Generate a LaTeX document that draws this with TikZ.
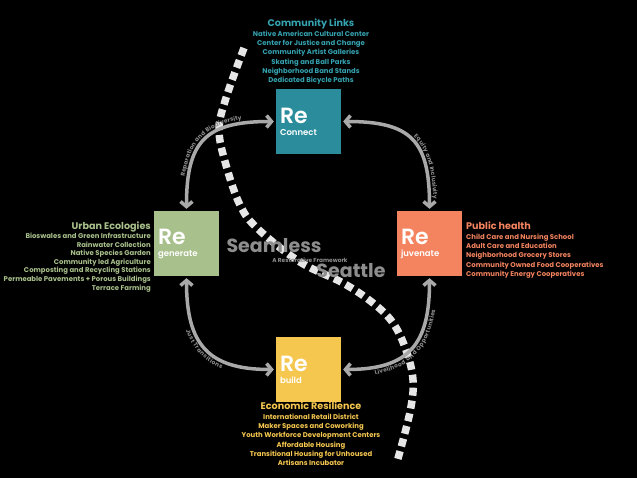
\documentclass[tikz,border=0pt]{standalone}
\usepackage{fontspec}
\setmainfont{Poppins}
\newfontfamily\reface{Poppins SemiBold}
\usetikzlibrary{arrows.meta,decorations.text}

\definecolor{linkteal}{HTML}{2B8D9C}
\definecolor{linktext}{HTML}{35A2B0}
\definecolor{ecogreen}{HTML}{A8C08B}
\definecolor{healthorange}{HTML}{F4835F}
\definecolor{buildyellow}{HTML}{F5C74F}
\definecolor{arcgray}{HTML}{A9A9A9}
\definecolor{titlegray}{HTML}{8E8E8E}
\definecolor{seamwhite}{HTML}{E6E6E6}

\newcommand{\rebig}{\reface\fontsize{22}{20}\selectfont}
\newcommand{\resmall}{\fontsize{8.5}{10}\selectfont}
\newcommand{\listhead}{\fontsize{9.6}{11}\selectfont\bfseries}
\newcommand{\arcfont}{\fontsize{5.8}{6}\selectfont\bfseries\color{titlegray}}

\tikzstyle{rebox} = [minimum size = 65pt, inner sep = 4pt, text width = 57pt, align = left, text = white]
\tikzstyle{relink} = [draw = arcgray, line width = 3.5pt, {Straight Barb[length=5pt,width=12pt]}-{Straight Barb[length=5pt,width=12pt]}, shorten <= 2pt, shorten >= 2pt]
\tikzstyle{seam} = [draw = seamwhite, line width = 7.5pt, dash pattern = on 8pt off 5pt]
\tikzstyle{listblock} = [font = \fontsize{6.9}{9.3}\selectfont\bfseries, inner sep = 0pt]

\begin{document}
\begin{tikzpicture}[x=1pt, y=-1pt]
	\fill [black] (0, 0) rectangle (637, 478);

	\draw [seam] plot [smooth, tension = 0.6] coordinates {(244, 48) (226, 98) (219, 130) (226, 165) (240, 205) (258, 229) (300, 262) (343, 283) (373, 303) (393, 323) (406, 350) (413, 380) (410, 412) (397, 462)};

	\node [rebox, fill = linkteal] at (308.5, 121.5) (conn) {\rebig Re\\\resmall Connect};
	\node [rebox, fill = ecogreen] at (186.5, 243.5) (regen) {\rebig Re\\\resmall generate};
	\node [rebox, fill = healthorange] at (429.5, 243.5) (rejuv) {\rebig Re\\\resmall juvenate};
	\node [rebox, fill = buildyellow] at (308.5, 369.5) (rebuild) {\rebig Re\\\resmall build};

	\draw [relink, postaction = {decorate, arrows = -, draw = none, decoration = {text along path, text align = center, raise = 4pt, text = {|\arcfont|Reparation and Biodiversity}}}] (regen.north) .. controls +(0, -70) and +(-70, 0) .. (conn.west);
	\draw [relink, postaction = {decorate, arrows = -, draw = none, decoration = {text along path, text align = {align = right, right indent = 12pt}, raise = 4pt, text = {|\arcfont|Equity and Inclusivity}}}] (conn.east) .. controls +(70, 0) and +(0, -70) .. (rejuv.north);
	\draw [relink, postaction = {decorate, arrows = -, draw = none, decoration = {text along path, text align = center, raise = -8pt, text = {|\arcfont|Just Transitions}}}] (regen.south) .. controls +(0, 68) and +(-68, 0) .. (rebuild.west);
	\draw [relink, postaction = {decorate, arrows = -, draw = none, decoration = {text along path, text align = center, raise = -8pt, text = {|\arcfont|Livelihood and Opportunities}}}] (rebuild.east) .. controls +(68, 0) and +(0, 68) .. (rejuv.south);

	\node [listblock, text = linktext, align = center, anchor = north] at (311, 19) (links) {{\listhead Community Links}\\Native American Cultural Center\\Center for Justice and Change\\Community Artist Galleries\\Skating and Ball Parks\\Neighborhood Band Stands\\Dedicated Bicycle Paths};
	\node [listblock, text = ecogreen, align = right, anchor = north east, font = \fontsize{6.9}{8.6}\selectfont\bfseries] at (151, 222) (ecologies) {{\listhead Urban Ecologies}\\Bioswales and Green Infrastructure\\Rainwater Collection\\Native Species Garden\\Community led Agriculture\\Composting and Recycling Stations\\Permeable Pavements + Porous Buildings\\Terrace Farming};
	\node [listblock, text = healthorange, align = left, anchor = north west] at (466, 222) (health) {{\listhead Public health}\\Child Care and Nursing School\\Adult Care and Education\\Neighborhood Grocery Stores\\Community Owned Food Cooperatives\\Community Energy Cooperatives};
	\node [listblock, text = buildyellow, align = center, anchor = north] at (311, 402) (resilience) {{\listhead Economic Resilience}\\International Retail District\\Maker Spaces and Coworking\\Youth Workforce Development Centers\\Affordable Housing\\Transitional Housing for Unhoused\\Artisans Incubator};

	\node [text = titlegray, font = \fontsize{19}{20}\selectfont\bfseries, inner sep = 0pt] at (274, 246) (seamless) {Seamless};
	\node [text = titlegray, font = \fontsize{5.8}{6}\selectfont\bfseries, inner sep = 0pt] at (310, 260) (framework) {A Restorative Framework};
	\node [text = titlegray, font = \fontsize{19}{20}\selectfont\bfseries, inner sep = 0pt] at (351, 271) (seattle) {Seattle};
\end{tikzpicture}
\end{document}
